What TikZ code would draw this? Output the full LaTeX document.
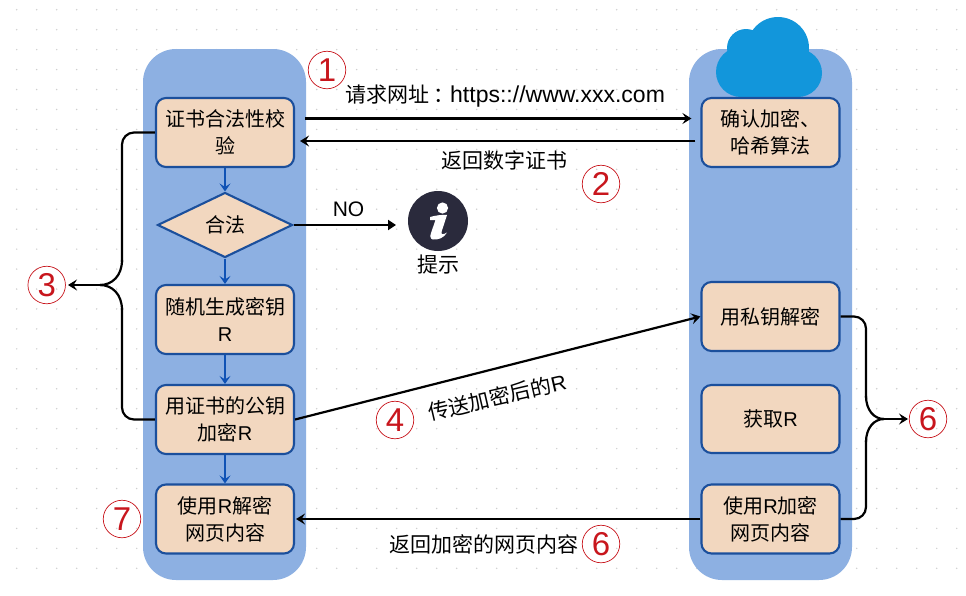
\documentclass[tikz,border=0pt]{standalone}
\usepackage{fontspec}
\setmainfont{Liberation Sans}
\newfontfamily\cjk{Noto Sans CJK SC}
\usetikzlibrary{shapes.geometric,arrows.meta}
\definecolor{panelblue}{HTML}{8DB0E2}
\definecolor{boxfill}{HTML}{F2D7BF}
\definecolor{boxline}{HTML}{1B4F9C}
\definecolor{flowblue}{HTML}{0F52B5}
\definecolor{cloudblue}{HTML}{1296DB}
\definecolor{numred}{HTML}{C8161D}
\definecolor{iconink}{HTML}{2A2A3C}
\definecolor{griddot}{HTML}{CFCFCF}
\tikzset{
  panel/.style={fill=panelblue,rounded corners=33pt,minimum width=163pt,minimum height=531pt,inner sep=0pt},
  procbox/.style={draw=boxline,line width=2.1pt,fill=boxfill,rounded corners=10pt,minimum width=138pt,align=center,inner sep=0pt,font=\fontsize{20}{27}\selectfont\cjk},
  decision/.style={diamond,aspect=2.08,draw=boxline,line width=2.1pt,fill=boxfill,minimum width=135pt,minimum height=65pt,inner sep=0pt,font=\fontsize{20}{27}\selectfont\cjk},
  numring/.style={circle,draw=numred,line width=0.7pt,minimum size=37.5pt,inner sep=0pt,text=numred,font=\fontsize{33}{33}\selectfont},
  lbl/.style={inner sep=0pt,font=\fontsize{21}{26}\selectfont\cjk},
  msg/.style={line width=2.2pt,black,-{Stealth[length=9pt,width=11pt,inset=3.5pt]}},
  flow/.style={line width=2.2pt,flowblue,-{Stealth[length=8pt,width=11pt,inset=3.5pt]}},
  brace/.style={line width=2.2pt,black,rounded corners=12pt},
}
\begin{document}
\begin{tikzpicture}[x=1pt,y=-1pt]
\useasboundingbox (0,0) rectangle (966,595);
\fill[white] (0,0) rectangle (966,595);
\foreach \i in {0,...,47} \foreach \j in {0,...,28}
  \fill[griddot] ({16.7+20*\i},{9.7+19.95*\j}) circle (0.8pt);

\node[panel] (leftpanel) at (224.5,314.5) {};
\node[panel] (rightpanel) at (770.5,314.5) {};

% cloud
\fill[cloudblue] (778,48) circle (31) (746,48) circle (19) (741,72) circle (25) (798,73) circle (24);
\fill[cloudblue] (740,50) rectangle (798,97);

\node[procbox,minimum height=69pt] (cert) at (225,132.5) {证书合法性校\\验};
\node[decision] (legal) at (225,225) {合法};
\node[procbox,minimum height=69pt] (gen) at (225,319.5) {随机生成密钥\\{\rmfamily R}};
\node[procbox,minimum height=69pt] (enc) at (225,419.5) {用证书的公钥\\加密{\rmfamily R}};
\node[procbox,minimum height=69pt] (dec) at (225,519) {使用{\rmfamily R}解密\\网页内容};

\node[procbox,minimum height=69pt] (confirm) at (770.5,132.5) {确认加密、\\哈希算法};
\node[procbox,minimum height=69pt] (priv) at (770.5,316.5) {用私钥解密};
\node[procbox,minimum height=68pt] (getr) at (770.5,419) {获取{\rmfamily R}};
\node[procbox,minimum height=69pt] (encpage) at (770.5,519) {使用{\rmfamily R}加密\\网页内容};

\node[numring] (n1) at (327,70) {1};
\node[numring] (n2) at (601,184) {2};
\node[numring] (n3) at (46.7,285) {3};
\node[numring] (n4) at (395,420) {4};
\node[numring] (n6a) at (928,419) {6};
\node[numring] (n6b) at (601,544) {6};
\node[numring] (n7) at (122,519) {7};

\node[lbl,anchor=west] (req) at (345,96) {请求网址\hspace{4pt}：\hspace{-4pt}{\rmfamily\fontsize{23}{26}\selectfont https:://www.xxx.com}};
\node[lbl] (back) at (504.5,160) {返回数字证书};
\node[inner sep=0pt,font=\fontsize{21}{24}\selectfont] (no) at (348.5,209) {NO};
\node[lbl] (tip) at (438,265) {提示};
\node[lbl,rotate=13] (sendr) at (497,397) {传送加密后的{\rmfamily R}};
\node[lbl] (backpage) at (483.5,544) {返回加密的网页内容};

% info icon
\node[circle,fill=iconink,minimum size=60pt,inner sep=0pt] (info) at (438,221) {};
\fill[white] (442.5,208) circle (5.6);
\fill[white] (430,217) .. controls (435,215.5) and (442,214.5) .. (447,215)
  -- (441.5,232) .. controls (441,234.5) and (443,235) .. (447,232.5)
  .. controls (444,238) and (438,240) .. (433,239.5)
  .. controls (430,239) and (430,236) .. (431,233) -- (435.5,220)
  .. controls (433,220) and (431,220) .. (430,220) -- cycle;

\coordinate (c3) at (68,285);
\coordinate (c6) at (908,419);

\draw[flow] (cert) -- (legal);
\draw[flow] (legal) -- (gen);
\draw[flow] (gen) -- (enc);
\draw[flow] (enc) -- (dec);

\draw[msg] ([shift={(10,-14)}]cert.east) -- ([shift={(-9,-14)}]confirm.west);
\draw[msg] ([shift={(-5,8.5)}]confirm.west) -- ([shift={(5,8.5)}]cert.east);
\draw[line width=2.2pt,black,-{Triangle[length=8pt,width=10pt]}] (legal.east) -- (396,225);
\draw[msg] (enc.east) -- (priv.west);
\draw[msg] (encpage.west) -- ([shift={(1,0)}]dec.east);

\draw[brace] (cert.west) -- (122,132.5) -- (122,262);
\draw[brace,rounded corners=0pt] (122,260) .. controls (122,276) and (112,285) .. (100,285);
\draw[brace] (enc.west) -- (122,419.5) -- (122,308);
\draw[brace,rounded corners=0pt] (122,310) .. controls (122,294) and (112,285) .. (100,285);
\draw[msg] (101,285) -- (c3);

\draw[brace] (priv.east) -- (866,316.5) -- (866,398);
\draw[brace,rounded corners=0pt] (866,396) .. controls (866,410) and (874,419) .. (884,419);
\draw[brace] (encpage.east) -- (866,519) -- (866,440);
\draw[brace,rounded corners=0pt] (866,442) .. controls (866,428) and (874,419) .. (884,419);
\draw[msg] (883,419) -- (c6);
\end{tikzpicture}
\end{document}
